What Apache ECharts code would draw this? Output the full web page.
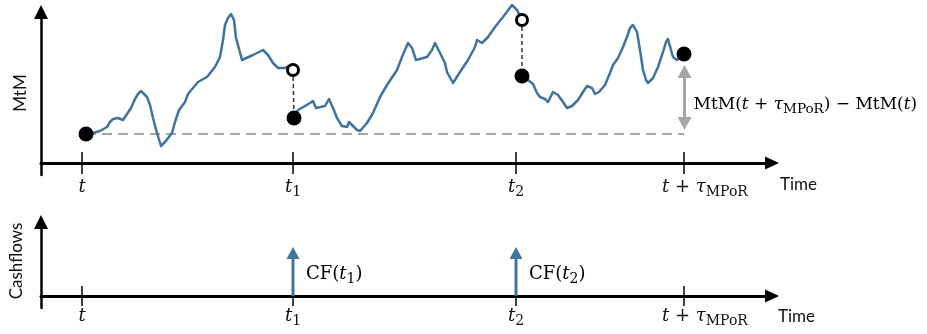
<!DOCTYPE html>
<html>
<head>
<meta charset="utf-8">
<script src="https://cdn.jsdelivr.net/npm/echarts@6/dist/echarts.min.js"></script>
<style>
  html, body { margin: 0; padding: 0; background: #fff; }
  #chart { width: 927px; height: 334px; }
</style>
</head>
<body>
<div id="chart"></div>
<script>
// Marked dates on the time axis (time steps): t, t1, t2, t + tau_MPoR
const tickTimes = [0, 211, 434, 602];
const tickLabels = ['{i|t}', '{i|t}{s|1}', '{i|t}{s|2}', '{i|t + τ}{s|MPoR}'];

// Simulated MtM path, split at the two cashflow dates
const pathTime1 = [4, 11, 18, 25, 28, 31, 36, 41, 45, 49, 53, 56, 59, 62, 65, 68, 71, 75, 79, 83, 90, 93, 97, 103, 106, 111, 116, 125, 133, 138, 141, 143, 146, 149, 152, 154, 156, 160, 171, 181, 186, 191, 196, 203, 208, 211];
const pathMtM1 = [2.9, 3.0, 3.2, 3.6, 4.1, 4.4, 4.5, 4.3, 4.9, 5.5, 6.4, 6.9, 7.2, 6.9, 6.6, 5.8, 4.5, 3.0, 1.7, 2.1, 3.0, 4.1, 5.3, 6.1, 6.9, 7.5, 8.1, 8.6, 9.6, 10.6, 12.3, 13.8, 14.5, 14.9, 14.3, 12.5, 11.8, 10.3, 10.8, 11.3, 10.8, 10.0, 9.5, 9.5, 9.7, 9.3];

const pathTime2 = [212, 216, 223, 228, 231, 234, 243, 247, 251, 255, 260, 265, 267, 270, 275, 278, 285, 291, 298, 305, 315, 320, 326, 330, 334, 345, 350, 353, 358, 363, 365, 371, 378, 386, 393, 395, 400, 406, 413, 421, 430, 435, 440];
const pathMtM2 = [4.5, 5.3, 5.7, 6.0, 6.2, 5.5, 5.7, 6.4, 5.5, 4.5, 3.7, 3.6, 4.1, 3.8, 3.3, 3.2, 4.0, 5.0, 6.6, 7.8, 9.3, 10.6, 12.0, 11.5, 10.3, 10.6, 11.3, 12.0, 11.0, 10.0, 9.1, 8.0, 9.1, 10.3, 11.6, 12.3, 12.0, 12.6, 13.6, 14.6, 15.8, 15.3, 14.3];

const pathTime3 = [440, 446, 451, 455, 458, 463, 466, 471, 476, 481, 485, 490, 496, 501, 505, 510, 513, 517, 523, 528, 531, 536, 541, 545, 548, 551, 555, 558, 561, 564, 566, 571, 576, 581, 584, 586, 589, 591, 595, 602];
const pathMtM3 = [8.7, 8.3, 7.9, 7.0, 6.6, 6.4, 6.1, 7.1, 6.8, 6.1, 5.5, 5.7, 6.3, 7.1, 7.7, 7.5, 6.9, 7.1, 7.8, 9.0, 9.8, 10.5, 11.6, 12.6, 13.5, 13.8, 13.1, 11.3, 9.3, 8.3, 8.0, 8.5, 9.6, 11.1, 12.1, 12.4, 11.3, 10.6, 10.3, 10.9];

// MtM just before (open) and just after (filled) each cashflow
const preCashflowTime = [211, 440];
const preCashflowMtM = [9.3, 14.3];
const postCashflowTime = [212, 440];
const postCashflowMtM = [4.5, 8.7];

// Cashflows paid at t1 and t2
const cashflowTimes = [211, 434];
const cashflowAmounts = [4.9, 4.9];
const cashflowLabels = ['{n|CF(}{i|t}{s|1}{n|)}', '{n|CF(}{i|t}{s|2}{n|)}'];

const annotationText = '{n|MtM(}{i|t}{n| + }{i|τ}{s|MPoR}{n|) − MtM(}{i|t}{n|)}';

// ---- styling ----
const BLUE = '#4173a0';
const GREY = '#a6a6a6';
const SERIF = 'DejaVu Serif';
const SANS = 'Lato';
function makeRich(size, subSize) {
  return {
    i: { fontFamily: SERIF, fontStyle: 'italic', fontSize: size, lineHeight: 24, color: '#111' },
    n: { fontFamily: SERIF, fontSize: size, lineHeight: 24, color: '#111' },
    s: { fontFamily: SERIF, fontSize: subSize, lineHeight: 24, verticalAlign: 'bottom', color: '#111' }
  };
}
const mathRich = makeRich(18, 14);
const annotationRich = makeRich(17, 13.5);
const tickLabelShift = [0, 0, 0, -22];

const zip = (xs, ys) => xs.map((x, k) => [x, ys[k]]);
const t0 = pathTime1[0], mtm0 = pathMtM1[0];
const tEnd = pathTime3[pathTime3.length - 1], mtmEnd = pathMtM3[pathMtM3.length - 1];

const chart = echarts.init(document.getElementById('chart'), null, { renderer: 'canvas' });

function axisPair(gridIndex, yMin, yMax) {
  return {
    x: {
      type: 'value', gridIndex, min: -41, max: 690,
      axisLine: { show: true, onZero: true, symbol: ['none', 'triangle'], symbolSize: [13, 14],
        lineStyle: { color: '#000', width: 3 } },
      axisTick: { show: false }, axisLabel: { show: false }, splitLine: { show: false }
    },
    y: {
      type: 'value', gridIndex, min: yMin, max: yMax,
      axisLine: { show: true, onZero: false, symbol: ['none', 'triangle'], symbolSize: [14, 14],
        lineStyle: { color: '#000', width: 2.5 } },
      axisTick: { show: false }, axisLabel: { show: false }, splitLine: { show: false }
    }
  };
}
const mtmAxes = axisPair(0, -1.2, 15.1);
const cashAxes = axisPair(1, -1.2, 7.4);

function tickSeries(gridIndex, len, dist) {
  return {
    type: 'scatter', xAxisIndex: gridIndex, yAxisIndex: gridIndex,
    symbol: 'rect', symbolSize: [1.5, len], z: 3, silent: true,
    itemStyle: { color: '#000', opacity: 1 },
    data: tickTimes.map((t, k) => ({
      value: [t, 0],
      label: {
        show: true, position: 'bottom', distance: dist,
        formatter: tickLabels[k], rich: mathRich,
        align: tickLabelShift[k] ? 'left' : 'center',
        offset: [tickLabelShift[k], 0]
      }
    }))
  };
}

function pathSeries(xs, ys) {
  return {
    type: 'line', xAxisIndex: 0, yAxisIndex: 0, data: zip(xs, ys),
    showSymbol: false, clip: false, z: 4, silent: true,
    lineStyle: { color: BLUE, width: 2.5, join: 'round' }
  };
}

const option = {
  animation: false,
  grid: [
    { left: 41, right: 155, top: 12, bottom: 159 },
    { left: 41, right: 155, top: 222, bottom: 26 }
  ],
  xAxis: [mtmAxes.x, cashAxes.x],
  yAxis: [mtmAxes.y, cashAxes.y],
  graphic: [
    { type: 'text', x: 21, y: 93, rotation: Math.PI / 2,
      style: { text: 'MtM', font: '17px ' + SANS, fill: '#111', align: 'center', verticalAlign: 'middle' } },
    { type: 'text', x: 17, y: 261, rotation: Math.PI / 2,
      style: { text: 'Cashflows', font: '17px ' + SANS, fill: '#111', align: 'center', verticalAlign: 'middle' } },
    { type: 'text', x: 780, y: 185,
      style: { text: 'Time', font: '17px ' + SANS, fill: '#111', align: 'left', verticalAlign: 'middle' } },
    { type: 'text', x: 778, y: 317,
      style: { text: 'Time', font: '17px ' + SANS, fill: '#111', align: 'left', verticalAlign: 'middle' } }
  ],
  series: [
    // reference level MtM(t)
    {
      type: 'line', xAxisIndex: 0, yAxisIndex: 0, data: [[t0, mtm0], [tEnd, mtm0]],
      showSymbol: false, z: 2, silent: true,
      lineStyle: { color: GREY, width: 2, type: [10, 6] }
    },
    pathSeries(pathTime1, pathMtM1),
    pathSeries(pathTime2, pathMtM2),
    pathSeries(pathTime3, pathMtM3),
    // jumps of the MtM at the cashflow dates
    ...preCashflowTime.map((t, k) => ({
      type: 'line', xAxisIndex: 0, yAxisIndex: 0,
      data: [[t, preCashflowMtM[k]], [postCashflowTime[k], postCashflowMtM[k]]],
      showSymbol: false, z: 3, silent: true,
      lineStyle: { color: '#333', width: 1.5, type: [4, 3] }
    })),
    {
      type: 'scatter', xAxisIndex: 0, yAxisIndex: 0, symbolSize: 15, z: 6, silent: true,
      itemStyle: { color: '#000', opacity: 1 },
      data: [[t0, mtm0], ...zip(postCashflowTime, postCashflowMtM), [tEnd, mtmEnd]]
    },
    {
      type: 'scatter', xAxisIndex: 0, yAxisIndex: 0, symbolSize: 11, z: 6, silent: true,
      itemStyle: { color: '#fff', borderColor: '#000', borderWidth: 3, opacity: 1 },
      data: zip(preCashflowTime, preCashflowMtM)
    },
    // MtM(t + tau) - MtM(t)
    {
      type: 'custom', xAxisIndex: 0, yAxisIndex: 0, z: 5, silent: true,
      data: [[tEnd, mtm0, mtmEnd]],
      encode: { x: 0, y: [1, 2] },
      renderItem(params, api) {
        const hi = api.coord([api.value(0), api.value(2)]);
        const lo = api.coord([api.value(0), api.value(1)]);
        const x = hi[0] + 0.5, y1 = hi[1] + 11, y2 = lo[1] - 4, hw = 7, hh = 13;
        return {
          type: 'group', children: [
            { type: 'line', shape: { x1: x, y1: y1 + hh - 1, x2: x, y2: y2 - hh + 1 },
              style: { stroke: GREY, lineWidth: 3 } },
            { type: 'polygon', shape: { points: [[x, y1], [x - hw, y1 + hh], [x + hw, y1 + hh]] },
              style: { fill: GREY } },
            { type: 'polygon', shape: { points: [[x, y2], [x - hw, y2 - hh], [x + hw, y2 - hh]] },
              style: { fill: GREY } },
            { type: 'text', x: x + 9, y: (y1 + y2) / 2 + 7,
              style: { text: annotationText, rich: annotationRich, align: 'left', verticalAlign: 'middle' } }
          ]
        };
      }
    },
    tickSeries(0, 22, 1),
    // cashflow arrows
    {
      type: 'custom', xAxisIndex: 1, yAxisIndex: 1, z: 5, silent: true,
      data: zip(cashflowTimes, cashflowAmounts),
      encode: { x: 0, y: 1 },
      renderItem(params, api) {
        const base = api.coord([api.value(0), 0]);
        const tip = api.coord([api.value(0), api.value(1)]);
        const x = base[0], hw = 6.5, hh = 12;
        return {
          type: 'group', children: [
            { type: 'line', shape: { x1: x, y1: base[1], x2: x, y2: tip[1] + hh - 1 },
              style: { stroke: BLUE, lineWidth: 3 } },
            { type: 'polygon', shape: { points: [[x, tip[1]], [x - hw, tip[1] + hh], [x + hw, tip[1] + hh]] },
              style: { fill: BLUE } },
            { type: 'text', x: x + 13, y: base[1] - 22,
              style: { text: cashflowLabels[params.dataIndex], rich: mathRich, align: 'left', verticalAlign: 'middle' } }
          ]
        };
      }
    },
    tickSeries(1, 20, -2)
  ]
};
chart.setOption(option);
</script>
</body>
</html>
